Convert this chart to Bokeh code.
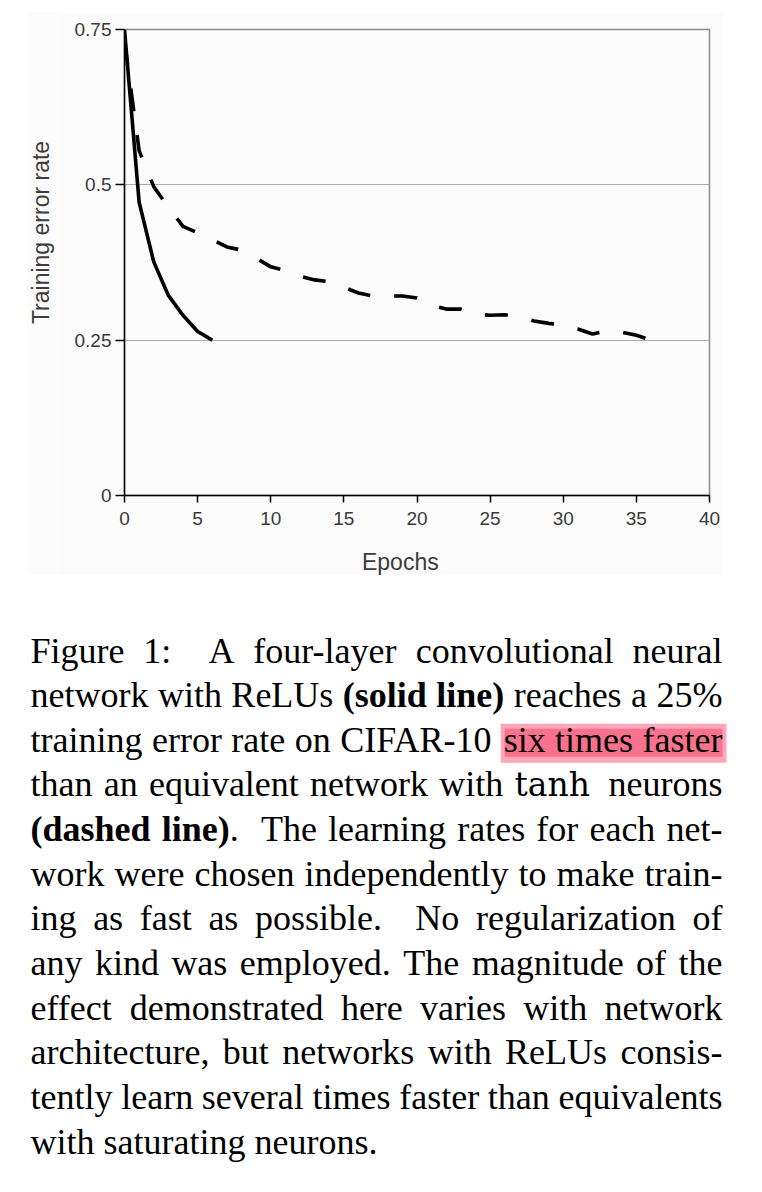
import math
from bokeh.plotting import figure
from bokeh.models import Range1d, FixedTicker, Spacer, ColumnDataSource
from bokeh.layouts import column, row
from bokeh.core.properties import value
from bokeh.embed import file_html
from bokeh.resources import INLINE

# ---------------- data ----------------
EPOCHS_RELU = [0, 1, 2, 3, 4, 5, 6]
ERR_RELU = [0.75, 0.472, 0.376, 0.322, 0.290, 0.264, 0.250]

EPOCHS_TANH = [0, 1, 2, 3, 4, 5, 6, 7, 8, 9, 10, 11, 12, 13, 14, 15, 16, 17, 18,
               19, 20, 21, 22, 23, 24, 25, 26, 27, 28, 29, 30, 31, 32, 33, 34, 35, 36]
ERR_TANH = [0.730, 0.555, 0.497, 0.464, 0.433, 0.423, 0.412, 0.400, 0.395, 0.382,
            0.368, 0.362, 0.353, 0.347, 0.344, 0.335, 0.326, 0.321, 0.321, 0.321,
            0.318, 0.306, 0.300, 0.300, 0.292, 0.290, 0.291, 0.287, 0.281, 0.277,
            0.274, 0.268, 0.260, 0.265, 0.263, 0.258, 0.250]

X_TICKS = [0, 5, 10, 15, 20, 25, 30, 35, 40]
Y_TICKS = [0, 0.25, 0.5, 0.75]
Y_TICK_LABELS = ["0", "0.25", "0.5", "0.75"]
X_LABEL = "Epochs"
Y_LABEL = "Training error rate"

CAPTION_LINES = [
    "Figure 1:  A four-layer convolutional neural",
    "network with ReLUs **(solid line)** reaches a 25%",
    "training error rate on CIFAR-10 six times faster",
    "than an equivalent network with tanh neurons",
    "**(dashed line)**.  The learning rates for each net-",
    "work were chosen independently to make train-",
    "ing as fast as possible.  No regularization of",
    "any kind was employed. The magnitude of the",
    "effect demonstrated here varies with network",
    "architecture, but networks with ReLUs consis-",
    "tently learn several times faster than equivalents",
    "with saturating neurons.",
]
HIGHLIGHT_PHRASE = ["six", "times", "faster"]
MATH_WORDS = {"tanh"}

PANEL_BG = "#fbfbfb"
LABEL_COLOR = "#3c3c3c"


def strip(width, height, x0, x1, y0, y1):
    f = figure(width=width, height=height, x_range=Range1d(x0, x1), y_range=Range1d(y0, y1),
               output_backend="svg", toolbar_location=None, min_border=0,
               x_axis_type=None, y_axis_type=None, outline_line_color=None,
               background_fill_color=PANEL_BG, border_fill_color=PANEL_BG)
    f.xgrid.visible = False
    f.ygrid.visible = False
    return f


# ---------------- y-label strip (page x 27..57, y 12..575; y negated) ----------------
ylab = strip(30, 563, 27, 57, -575, -12)
ylab.text(x=[40], y=[-232], text=[Y_LABEL], angle=math.pi / 2,
          text_font=value("Liberation Sans"), text_font_size=value("23px"),
          text_align=value("center"), text_baseline=value("middle"), text_color=LABEL_COLOR)

# ---------------- chart (page x 57..723, y 12..539) ----------------
chart = figure(width=666, height=527, x_range=Range1d(0, 40), y_range=Range1d(0, 0.75),
               output_backend="svg", toolbar_location=None,
               min_border_left=67, min_border_right=14, min_border_top=17, min_border_bottom=44,
               background_fill_color=PANEL_BG, border_fill_color=PANEL_BG,
               outline_line_color="#8a8a8a", outline_line_width=1.5)

chart.xgrid.grid_line_color = None
chart.ygrid.ticker = FixedTicker(ticks=Y_TICKS[1:])
chart.ygrid.grid_line_color = "#ababab"
chart.ygrid.grid_line_width = 1.2

for ax in (chart.xaxis[0], chart.yaxis[0]):
    ax.axis_line_color = "black"
    ax.axis_line_width = 1.5
    ax.major_tick_line_color = "black"
    ax.major_tick_line_width = 1.5
    ax.major_tick_in = 0
    ax.minor_tick_line_color = None
    ax.major_label_text_font = "Liberation Sans"
    ax.major_label_text_font_size = "19px"
    ax.major_label_text_color = "#3a3a3a"
    ax.major_label_orientation = "horizontal"

chart.xaxis.ticker = FixedTicker(ticks=X_TICKS)
chart.xaxis.major_tick_out = 7
chart.xaxis.major_label_standoff = 9
chart.yaxis.ticker = FixedTicker(ticks=Y_TICKS)
chart.yaxis.major_tick_out = 9
chart.yaxis.major_label_standoff = 4
chart.yaxis.major_label_overrides = {t: s for t, s in zip(Y_TICKS, Y_TICK_LABELS)}

chart.line(EPOCHS_TANH, ERR_TANH, line_color="black", line_width=3.6, line_dash="23 24")
chart.line(EPOCHS_RELU, ERR_RELU, line_color="black", line_width=3.6)

# ---------------- x-label strip (below the chart; y negated) ----------------
xlab = strip(666, 36, 57, 723, -575, -539)
xlab.text(x=[371], y=[-561], text=[X_LABEL],
          text_font=value("Liberation Sans"), text_font_size=value("23px"),
          text_align=value("center"), text_baseline=value("middle"), text_color=LABEL_COLOR)

# ---------------- caption ----------------
W_REG = {' ': 250, '(': 333, ')': 333, ',': 250, '-': 333, '.': 250, ':': 278, '%': 833,
         'A': 722, 'C': 667, 'F': 556, 'I': 333, 'L': 611, 'N': 722, 'R': 667, 'T': 611, 'U': 722,
         'a': 444, 'b': 500, 'c': 444, 'd': 500, 'e': 444, 'f': 333, 'g': 500, 'h': 500,
         'i': 278, 'j': 278, 'k': 500, 'l': 278, 'm': 778, 'n': 500, 'o': 500, 'p': 500,
         'q': 500, 'r': 333, 's': 389, 't': 278, 'u': 500, 'v': 500, 'w': 722, 'x': 500,
         'y': 500, 'z': 444}
for dgt in "0123456789":
    W_REG[dgt] = 500
W_BOLD = {'(': 333, ')': 333, '.': 250, 'a': 500, 'd': 556, 'e': 444, 'h': 556, 'i': 278,
          'l': 278, 'n': 556, 'o': 500, 's': 389}
FS = 36.0
MATH_EM = 2.3


def seg_width(txt, kind):
    if kind == "math":
        return MATH_EM * FS
    table = W_BOLD if kind == "bold" else W_REG
    return sum(table.get(c, W_REG.get(c, 500)) for c in txt) * FS / 1000.0


L, R = 30.0, 722.0
BASE0, LEAD = 650.0, 44.64

srcs = {"reg": dict(x=[], y=[], text=[]), "bold": dict(x=[], y=[], text=[]),
        "math": dict(x=[], y=[], text=[])}
hl = None
bold = False
for i, line in enumerate(CAPTION_LINES):
    yb = BASE0 + i * LEAD
    words = []
    wgt = 1
    for tok in line.split(" "):
        if tok == "":
            wgt += 1
            continue
        segs = []
        parts = tok.split("**")
        for k, part in enumerate(parts):
            if k > 0:
                bold = not bold
            if part:
                kind = "math" if part in MATH_WORDS else ("bold" if bold else "reg")
                segs.append((part, kind))
        words.append((segs, wgt))
        wgt = 1
    widths = [sum(seg_width(t, kd) for t, kd in segs) for segs, _ in words]
    justified = i < len(CAPTION_LINES) - 1
    if justified:
        gap = (R - L - sum(widths)) / sum(w for _, w in words[1:])
    else:
        gap = 0.25 * FS
    x = L
    starts = []
    for j, ((segs, w), wd) in enumerate(zip(words, widths)):
        if j > 0:
            x += gap * w
        starts.append(x)
        xs = x
        for t, kd in segs:
            srcs[kd]["x"].append(xs)
            srcs[kd]["y"].append(yb)
            srcs[kd]["text"].append(t)
            xs += seg_width(t, kd)
        x += wd
    plain = ["".join(t for t, _ in segs) for segs, _ in words]
    n = len(HIGHLIGHT_PHRASE)
    for j in range(len(plain) - n + 1):
        if plain[j:j + n] == HIGHLIGHT_PHRASE:
            hl = (starts[j], starts[j + n - 1] + widths[j + n - 1], yb)

cap = figure(width=746, height=609, x_range=Range1d(8, 754), y_range=Range1d(1184, 575),
             output_backend="svg", toolbar_location=None, min_border=0,
             x_axis_type=None, y_axis_type=None, outline_line_color=None,
             background_fill_color="white", border_fill_color="white")
cap.xgrid.visible = False
cap.ygrid.visible = False

if hl is not None:
    x0, x1, yb = hl
    cap.quad(left=[x0 - 3], right=[x1 + 4], top=[yb - 16], bottom=[yb + 23],
             fill_color="#ffa6b8", line_color=None)
    cap.quad(left=[x0 + 1], right=[x1], top=[yb - 11], bottom=[yb + 17],
             fill_color="#f8728e", line_color=None)

cap.text(x="x", y="y", text="text", source=ColumnDataSource(srcs["reg"]),
         text_font=value("Liberation Serif"), text_font_size=value("36px"),
         text_baseline=value("alphabetic"), text_align=value("left"), text_color="black")
cap.text(x="x", y="y", text="text", source=ColumnDataSource(srcs["bold"]),
         text_font=value("Liberation Serif"), text_font_size=value("36px"),
         text_font_style=value("bold"),
         text_baseline=value("alphabetic"), text_align=value("left"), text_color="black")
cap.text(x="x", y="y", text="text", source=ColumnDataSource(srcs["math"]),
         text_font=value("DejaVu Serif"), text_font_size=value("33px"),
         text_baseline=value("alphabetic"), text_align=value("left"), text_color="black")

layout = column(Spacer(width=754, height=12),
                row(Spacer(width=27, height=563), ylab, column(chart, xlab)),
                row(Spacer(width=8, height=609), cap))

open("out.html", "w").write(file_html(layout, INLINE))
